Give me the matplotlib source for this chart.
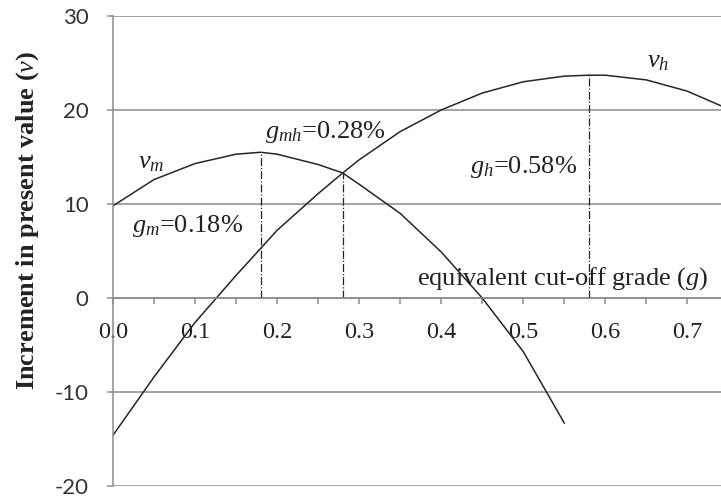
import matplotlib
matplotlib.use('Agg')
import matplotlib.pyplot as plt
from matplotlib.ticker import MultipleLocator

plt.rcParams['mathtext.fontset'] = 'custom'
plt.rcParams['mathtext.rm'] = 'Liberation Serif'
plt.rcParams['mathtext.it'] = 'Liberation Serif:italic'
plt.rcParams['mathtext.bf'] = 'Liberation Serif:bold'

# data
g_m = [0.0, 0.05, 0.10, 0.15, 0.18, 0.20, 0.25, 0.28, 0.30, 0.35, 0.40, 0.45, 0.50, 0.55]
v_m = [9.8, 12.6, 14.3, 15.3, 15.5, 15.3, 14.2, 13.3, 12.1, 9.0, 4.9, 0.0, -5.7, -13.3]

g_h = [0.0, 0.05, 0.10, 0.15, 0.20, 0.25, 0.28, 0.30, 0.35, 0.40, 0.45, 0.50, 0.55, 0.58, 0.60, 0.65, 0.70, 0.75]
v_h = [-14.6, -8.4, -2.6, 2.4, 7.2, 11.1, 13.3, 14.7, 17.7, 20.0, 21.8, 23.0, 23.6, 23.7, 23.7, 23.2, 22.0, 20.1]

# optimum grades and their values (dash-dot markers)
g_opt = [0.18, 0.28, 0.58]
v_opt = [15.5, 13.3, 23.7]

y_ticks = [-20, -10, 0, 10, 20, 30]
x_ticks = [0.0, 0.1, 0.2, 0.3, 0.4, 0.5, 0.6, 0.7]

grid_c = '#8c8c8c'
serif = 'Liberation Serif'

fig = plt.figure(figsize=(7.21, 4.99), dpi=100)
ax = fig.add_axes([0.1567, 0.026, 0.8433, 0.942])

ax.plot(g_m, v_m, color='#262626', lw=1.1)
ax.plot(g_h, v_h, color='#262626', lw=1.1)
ax.vlines(g_opt, 0, v_opt, colors='#262626', linestyles='dashdot', lw=0.9)

ax.set_xlim(0, 0.741)
ax.set_ylim(-20, 30)

# axes style (Excel look)
for s in ['top', 'right']:
    ax.spines[s].set_visible(False)
ax.spines['bottom'].set_position(('data', 0))
ax.spines['bottom'].set_color(grid_c)
ax.spines['left'].set_color(grid_c)
ax.spines['bottom'].set_linewidth(1.1)
ax.spines['left'].set_linewidth(1.1)

ax.set_yticks(y_ticks)
ax.set_yticklabels([str(t) for t in y_ticks], family='Lato', fontsize=16, color='#333333')
ax.set_xticks(x_ticks)
ax.set_xticklabels(['%.1f' % t for t in x_ticks], family=serif, fontsize=17.5, color='#222222')
ax.xaxis.set_minor_locator(MultipleLocator(0.05))
ax.tick_params(axis='y', length=4.5, width=1.1, color=grid_c, pad=13)
ax.tick_params(axis='x', which='both', length=4.3, width=1.1, color=grid_c, pad=13)
ax.yaxis.grid(True, color=grid_c, lw=1.1)
ax.set_axisbelow(True)

ax.set_ylabel(r'Increment in present value ($\mathbf{\mathit{v}}$)', family=serif, fontsize=19,
              fontweight='bold', color='#222222', labelpad=11)
ax.yaxis.set_label_coords(-0.118, 0.565)

txt = dict(family=serif, fontsize=19, color='#222222', va='baseline')
ax.text(0.030, 13.8, r'$v_m$', **txt)
ax.text(0.023, 7.0, r'$g_m$=0.18%', **txt)
ax.text(0.185, 17.0, r'$g_{mh}$=0.28%', **txt)
ax.text(0.435, 13.3, r'$g_h$=0.58%', **txt)
ax.text(0.651, 24.5, r'$v_h$', **txt)
ax.text(0.371, 1.4, r'equivalent cut-off grade ($g$)', **txt)

fig.savefig('out.png', dpi=100)
